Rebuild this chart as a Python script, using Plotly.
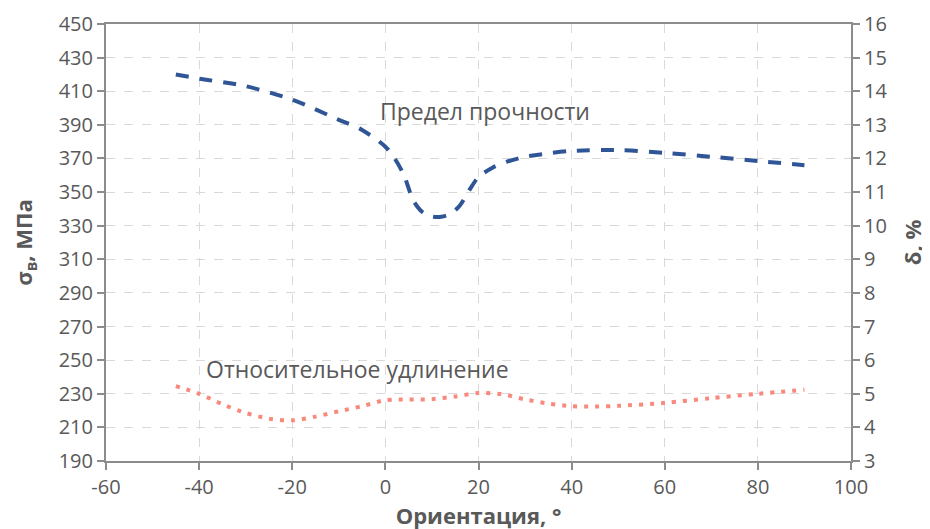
import plotly.graph_objects as go

# Tensile strength (left axis, MPa)
strength_x = [-45, -40, -30, -20, -10, -5, 0, 2, 4, 6, 8, 10, 12, 14, 16, 18, 20, 23, 26, 30, 35, 40, 50, 60, 70, 80, 90]
strength_y = [420, 417.5, 413, 405, 393, 387, 377, 370, 360, 345, 338, 335.5, 335.3, 337, 342, 351, 359, 364.5, 368, 371, 373, 374.5, 375, 373.3, 371, 368.5, 366]

# Elongation (right axis, %)
elong_x = [-45, -40, -35, -30, -25, -20, -15, -10, -5, 0, 5, 10, 15, 20, 25, 30, 35, 40, 45, 50, 60, 70, 80, 90]
elong_y = [5.23, 5.0, 4.69, 4.43, 4.26, 4.21, 4.32, 4.48, 4.63, 4.81, 4.83, 4.84, 4.92, 5.02, 4.99, 4.83, 4.71, 4.63, 4.62, 4.64, 4.73, 4.87, 5.0, 5.12]

x_ticks = [-60, -40, -20, 0, 20, 40, 60, 80, 100]
y_ticks = [190, 210, 230, 250, 270, 290, 310, 330, 350, 370, 390, 410, 430, 450]
y2_ticks = [3, 4, 5, 6, 7, 8, 9, 10, 11, 12, 13, 14, 15, 16]

label_strength = "Предел прочности"
label_elong = "Относительное удлинение"

FONT = "Open Sans"
TXT = "#595959"
AX = "#8c8c8c"
GRID = "#d9d9d9"

fig = go.Figure()
fig.add_trace(go.Scatter(
    x=strength_x, y=strength_y, mode="lines",
    line=dict(color="#2F5597", width=4, dash="13px,11px", shape="spline", smoothing=0.8),
    showlegend=False, yaxis="y"))
fig.add_trace(go.Scatter(
    x=elong_x, y=elong_y, mode="lines",
    line=dict(color="#F8897C", width=4, dash="4px,7px", shape="spline", smoothing=0.8),
    showlegend=False, yaxis="y2"))

fig.add_annotation(x=21.4, y=398, xref="x", yref="y", text=label_strength,
                   showarrow=False, font=dict(family=FONT, size=23, color=TXT))
fig.add_annotation(x=-5.9, y=244.5, xref="x", yref="y", text=label_elong,
                   showarrow=False, font=dict(family=FONT, size=23, color=TXT))

fig.update_layout(
    width=930, height=529,
    margin=dict(l=98, r=87, t=16, b=76),
    paper_bgcolor="white", plot_bgcolor="white",
    font=dict(family=FONT, size=20, color=TXT),
    xaxis=dict(
        range=[-60, 100], tickvals=x_ticks, ticktext=[str(v) for v in x_ticks],
        showgrid=True, gridcolor=GRID, griddash="dash", gridwidth=1,
        showline=True, linecolor=AX, linewidth=2, mirror=True,
        ticks="outside", ticklen=7, tickcolor=AX, tickwidth=2,
        zeroline=False, automargin=False,
        title=dict(text="<b>Ориентация, °</b>", font=dict(family=FONT, size=22, color=TXT), standoff=1),
        tickfont=dict(family=FONT, size=20, color=TXT),
    ),
    yaxis=dict(
        range=[190, 450], tickvals=y_ticks,
        showgrid=True, gridcolor=GRID, griddash="dash", gridwidth=1,
        showline=True, linecolor=AX, linewidth=2,
        ticks="outside", ticklen=7, tickcolor=AX, tickwidth=2,
        zeroline=False, automargin=False,
        title=dict(text="<b>σ<sub>в</sub>, МПа</b>", font=dict(family=FONT, size=22, color=TXT), standoff=27),
        tickfont=dict(family=FONT, size=20, color=TXT),
    ),
    yaxis2=dict(
        range=[3, 16], tickvals=y2_ticks, overlaying="y", side="right",
        showgrid=False,
        showline=True, linecolor=AX, linewidth=2,
        ticks="outside", ticklen=7, tickcolor=AX, tickwidth=2,
        zeroline=False, automargin=False,
        title=dict(text="<b>δ, %</b>", font=dict(family=FONT, size=22, color=TXT), standoff=19),
        tickfont=dict(family=FONT, size=20, color=TXT),
    ),
)

fig.write_html("out.html")
